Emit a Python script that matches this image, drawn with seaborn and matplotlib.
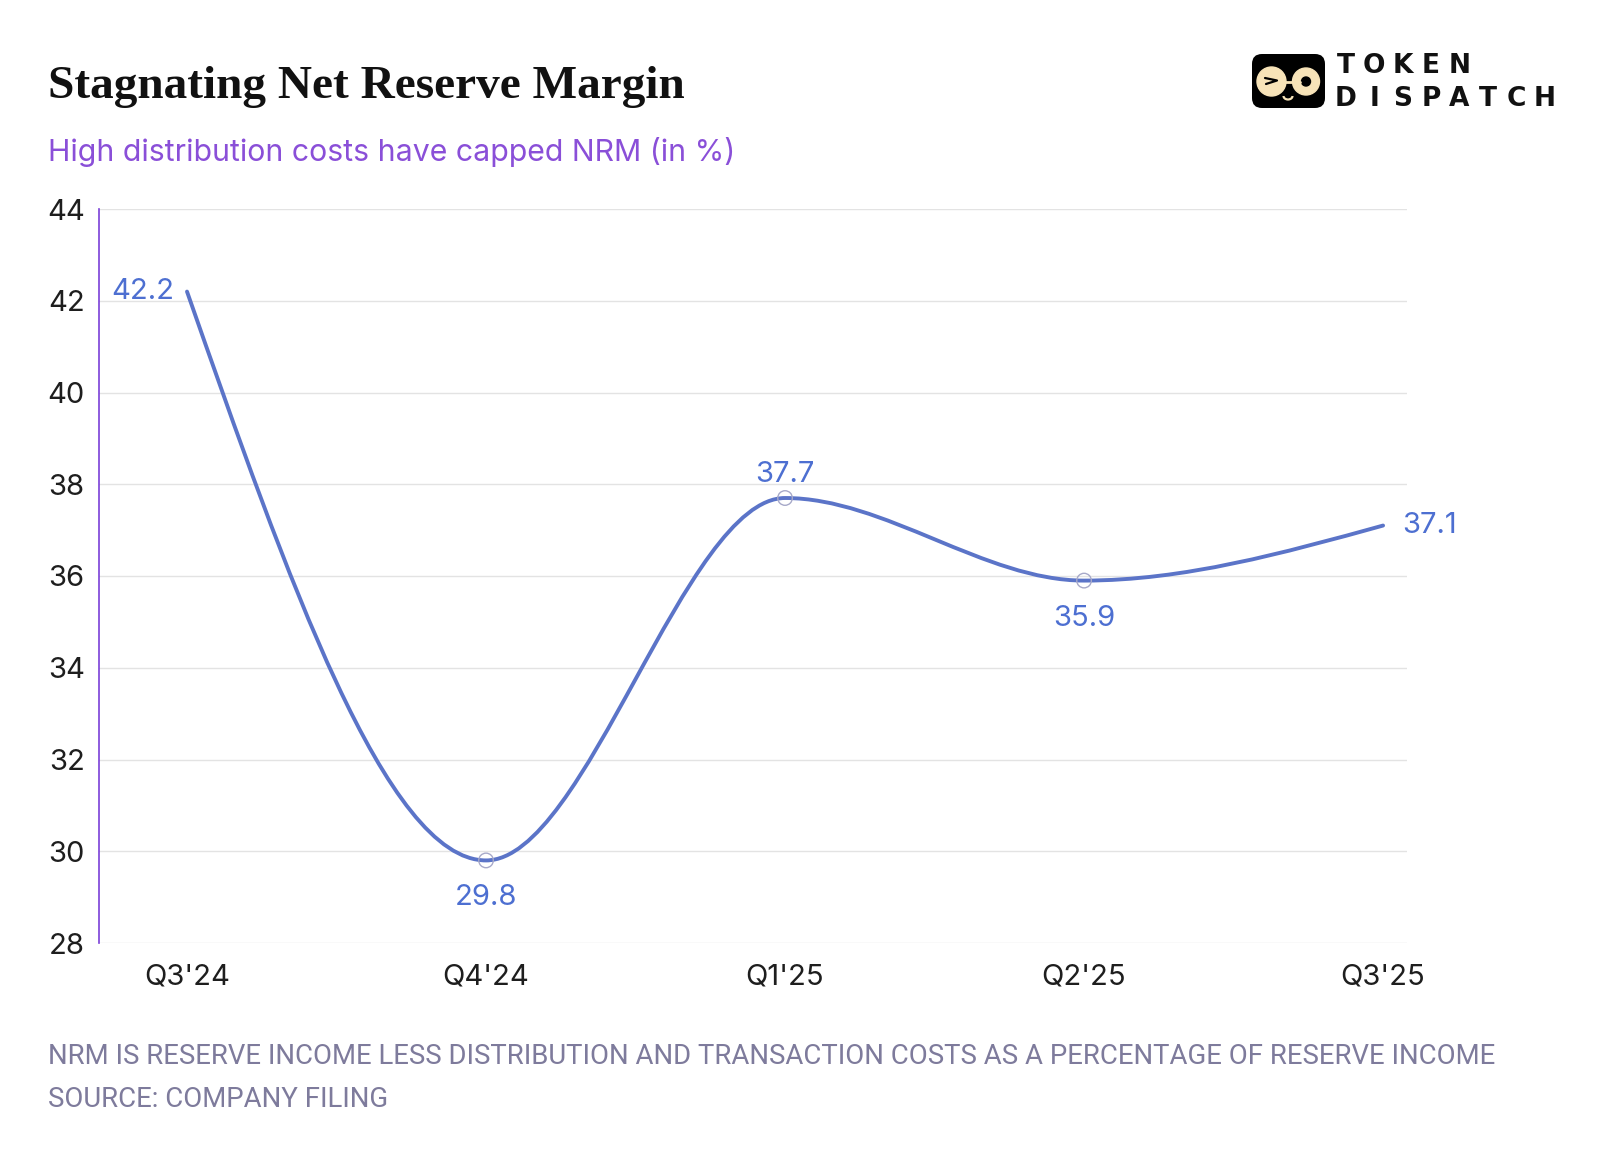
import numpy as np
import pandas as pd
import matplotlib
matplotlib.use("Agg")
import matplotlib.pyplot as plt
import seaborn as sns
from matplotlib.path import Path
from matplotlib.patches import PathPatch, FancyBboxPatch, Circle, Arc

# ------------------------------------------------------------------
# Data
# ------------------------------------------------------------------
quarters = ["Q3'24", "Q4'24", "Q1'25", "Q2'25", "Q3'25"]
nrm = [42.2, 29.8, 37.7, 35.9, 37.1]
marked = [False, True, True, True, False]
label_side = ["left", "below", "above", "below", "right"]
y_ticks = [28, 30, 32, 34, 36, 38, 40, 42, 44]

TITLE = "Stagnating Net Reserve Margin"
SUBTITLE = "High distribution costs have capped NRM (in %)"
NOTE = "NRM IS RESERVE INCOME LESS DISTRIBUTION AND TRANSACTION COSTS AS A PERCENTAGE OF RESERVE INCOME"
SOURCE = "SOURCE: COMPANY FILING"

LINE = "#5b74c8"
LABEL = "#4d6fd1"
PURPLE = "#8a4fd8"
FOOT = "#7e7b9c"

sns.set_theme(style="white")
plt.rcParams["font.family"] = ["Inter", "DejaVu Sans"]

W, H = 1600, 1152
fig = plt.figure(figsize=(W / 100, H / 100), dpi=100)


def fx(px):
    return px / W


def fy(py):
    return 1 - py / H


ax = fig.add_axes([fx(98.5), fy(943), fx(1407) - fx(98.5), fy(209) - fy(943)])

df = pd.DataFrame({"quarter": quarters, "x": np.arange(len(quarters)), "nrm": nrm, "marked": marked})


# monotone-x curve (same idea as d3.curveMonotoneX), drawn as bezier segments
def monotone_path(xs, ys):
    xs = np.asarray(xs, float)
    ys = np.asarray(ys, float)
    n = len(xs)
    h = np.diff(xs)
    s = np.diff(ys) / h
    t = np.zeros(n)
    for i in range(1, n - 1):
        p = (s[i - 1] * h[i] + s[i] * h[i - 1]) / (h[i - 1] + h[i])
        t[i] = (np.sign(s[i - 1]) + np.sign(s[i])) * min(abs(s[i - 1]), abs(s[i]), 0.5 * abs(p))
    t[0] = (3 * s[0] - t[1]) / 2
    t[-1] = (3 * s[-1] - t[-2]) / 2
    verts = [(xs[0], ys[0])]
    codes = [Path.MOVETO]
    for i in range(n - 1):
        dx = h[i] / 3
        verts += [(xs[i] + dx, ys[i] + dx * t[i]),
                  (xs[i + 1] - dx, ys[i + 1] - dx * t[i + 1]),
                  (xs[i + 1], ys[i + 1])]
        codes += [Path.CURVE4] * 3
    return Path(verts, codes)


ax.add_patch(PathPatch(monotone_path(df["x"], df["nrm"]), facecolor="none",
                       edgecolor=LINE, lw=2.8, capstyle="round", zorder=3))

sns.scatterplot(data=df[df["marked"]], x="x", y="nrm", ax=ax, s=110, marker="o",
                facecolor="none", edgecolor="#a7a9c9", linewidth=1.0, zorder=4, legend=False)

offsets = {"left": ((-9, 0), "right", "center"), "right": ((14, 0), "left", "center"),
           "above": ((0, 17), "center", "center"), "below": ((0, -27), "center", "center")}
for xi, v, side in zip(df["x"], nrm, label_side):
    off, ha, va = offsets[side]
    ax.annotate(f"{v:.1f}", (xi, v), xytext=off, textcoords="offset points",
                ha=ha, va=va, fontsize=21, color=LABEL, zorder=5)

ax.set_xlim(-0.296, 4.080)
ax.set_ylim(28, 44)
ax.set_yticks(y_ticks)
ax.set_xticks(df["x"])
ax.set_xticklabels(quarters)
ax.set_xlabel("")
ax.set_ylabel("")
ax.yaxis.grid(True, color="#e3e3e3", lw=1.0)
ax.xaxis.grid(False)
ax.set_axisbelow(True)
ax.tick_params(axis="y", length=0, pad=10, labelsize=21, labelcolor="#1e1e1e")
ax.tick_params(axis="x", length=0, pad=15, labelsize=21, labelcolor="#1e1e1e")
for side in ["top", "right", "bottom"]:
    ax.spines[side].set_visible(False)
ax.spines["left"].set_color("#7a3fd8")
ax.spines["left"].set_linewidth(1.2)

# ------------------------------------------------------------------
# Titles and notes
# ------------------------------------------------------------------
fig.text(fx(48), fy(97.5), TITLE, fontsize=34, fontweight="bold",
         family=["Liberation Serif", "DejaVu Serif"], color="#111111", va="baseline")
fig.text(fx(48), fy(161), SUBTITLE, fontsize=21.8, color=PURPLE, va="baseline")
fig.text(fx(48), fy(1064), NOTE, fontsize=19.8, color=FOOT, va="baseline",
         family=["Roboto", "DejaVu Sans"])
fig.text(fx(48), fy(1107), SOURCE, fontsize=19.8, color=FOOT, va="baseline",
         family=["Roboto", "DejaVu Sans"])

# ------------------------------------------------------------------
# Logo
# ------------------------------------------------------------------
lx0, lx1, ly0, ly1 = 1252, 1325, 54, 108
logo_ax = fig.add_axes([fx(lx0), fy(ly1), fx(lx1) - fx(lx0), fy(ly0) - fy(ly1)], zorder=5)
logo_ax.set_xlim(lx0, lx1)
logo_ax.set_ylim(ly1, ly0)
logo_ax.axis("off")
logo_ax.patch.set_alpha(0)
logo_ax.add_patch(FancyBboxPatch((lx0, ly0), lx1 - lx0, ly1 - ly0,
                                 boxstyle="round,pad=0,rounding_size=10",
                                 facecolor="black", edgecolor="none", clip_on=False))
beige = "#f7e3b8"
logo_ax.plot([1280, 1300], [81.5, 81.5], color=beige, lw=2)
logo_ax.add_patch(Circle((1271.5, 81.5), 14.5, color=beige))
logo_ax.add_patch(Circle((1306, 81.5), 13.5, color=beige))
logo_ax.add_patch(Circle((1306, 81.5), 4.5, color="black"))
logo_ax.plot([1265, 1277, 1266], [78, 80.5, 84], color="black", lw=1.6)
logo_ax.add_patch(Arc((1288, 96), 9, 7, theta1=0, theta2=180, color=beige, lw=1.6))

for word, cy in [("TOKEN", 66), ("DISPATCH", 99)]:
    for i, ch in enumerate(word):
        fig.text(fx(1345.5 + i * 28.5), fy(cy), ch, fontsize=19, fontweight="heavy",
                 family="DejaVu Sans", ha="center", va="center", color="#111111")

fig.savefig("out.png", dpi=100, facecolor="white")
